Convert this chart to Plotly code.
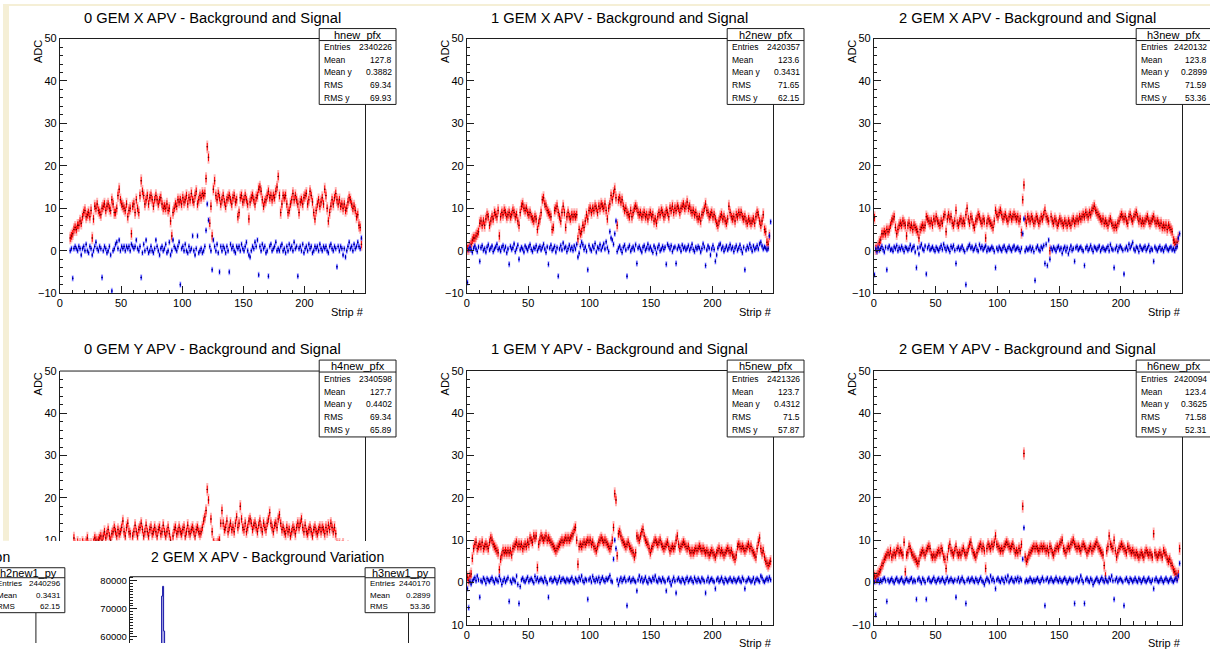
import plotly.graph_objects as go

W, H = 1210, 649
N_STRIPS = 248
STRIPS = list(range(N_STRIPS))
_ = None

# ---------------- data (ADC per strip) ----------------
SIG_X0 = [_,_,_,_,_,_,_,_,3,3.5,
 4,5,5.5,5,6,6,7,6.5,8,9,
 9.5,8,8.5,9,8,9.5,3,7.5,10.5,10,
 11,9.5,9,8.5,10,10.5,11,9.5,10.5,11,
 10,9.5,12,11,9,9,10,13,14.5,12,
 11,10.5,10,9.5,11,8,9.5,10,4,10.5,
 11,9,12,10,9,13,16.5,14,13,11,
 12,13,11,12.5,13,12,10.5,12,13,12,
 11,12,12.5,11,10,10.5,10,11,9.5,10,
 7,3.5,9,10,11,10.5,12,11.5,12,11,
 12.5,11.5,12,13,11,12.5,12,13.5,12,11.5,
 13,14,11,12,13,12.5,13.5,13,13.5,17,
 24.5,22,6.5,10.5,3.5,14.5,16.5,13,12,13.5,
 12.5,11,12,13,11.5,10.5,12,12.5,13,12,
 11,12.5,13,11.5,12,8,9,12.5,13,11.5,
 12,13,12,11,7.5,11.5,12.5,13,12,11,
 12.5,13,14.5,15,14,12,10.5,11.5,12,13,
 14,12.5,13,12,13,12.5,14,15,17.5,13,
 9,11,13,12.5,13,11,9,9.5,11,12,
 13.5,12,13,12,11,9,11.5,12,11,12.5,
 13,13.5,11,12,14,13,11.5,9,7.5,9.5,
 11,12,10.5,11.5,12.5,11,14.5,13,10,7,
 9,10.5,12,11,12.5,13.5,12,11,12,10.5,
 11,10,11,9.5,10,11.5,12.5,12,11,10,
 10.5,9.5,8,8.5,6,5.5,1.5,_]
BKG_X0 = [_,_,_,_,_,_,_,_,0,0.5,
 -6.5,0.5,1,0.5,0,1,0.5,-1,0.5,1,
 0,1.5,0,-0.5,1,0.5,-1,0,1,2,
 0.5,0,1,0.5,-6.3,0,1,0.5,-0.5,0,
 1,-1,-9.5,0,0.5,1.5,2,0.5,2.5,0,
 1,0.5,1,0,1,0.5,1,0,1.5,1,
 0.5,1,2.5,0.5,0,1,-6.3,-0.5,1.5,0,
 2.5,0.5,-0.5,0,1,0,-0.5,0.5,2.5,1,
 0,-1,0.5,1,0,0.5,1.5,-0.5,0,2,
 -1,0,2.5,1,0.5,0,1,2,-8,0.5,
 1,0,1.5,0,-0.5,1,0,0.5,3.5,0,
 -1,0.5,3.5,-0.5,0,0.5,-0.5,0,1,4.8,
 11,7.2,1,0,-4.5,2.5,1,0,1.5,-0.5,
 -5,1,0,1,0.5,-0.5,1,0,-5,1.5,
 0.5,1,0,-0.5,1,0.5,1,0,1.5,0.5,
 0,1,2,0,-1,-1.5,0,1,0.5,2,
 1,2.5,-5.7,1,0,1.5,0.5,1,-0.5,0,
 -6,1,1.5,0,0.5,1,2,0,0.5,0,
 1,1.5,0,0.5,-0.5,1,0,1.5,0.5,1,
 0,2,0.5,1,-6,0.5,1,0,1.5,-0.5,
 0.5,1,0,1.5,0.5,1,-0.5,0,1,0.5,
 1,0,1.5,0.5,0,1,0.5,1,0,-0.5,
 1,1.5,0.5,0,1,0.5,-3.8,1,0,1,
 0.5,-1,0.5,-1.5,0,1,2,0.5,1,0,
 1.5,0.5,1,2,1,0.5,3,_]

SIG_X1 = [0.5,0.5,1,1.5,2.5,3,3,3.5,4,4.5,
 6.5,7,6,7,6,7.5,8.5,8,6,7,
 8,7.5,9,8.5,8,9.5,3.5,8,9,8.5,
 9.5,9,8,8.5,9,8,8.5,9.5,9,8,
 8.5,7,6,9,10.5,11,10,9.5,10,9,
 8.5,9,8,7.5,7,8,7.5,5,6.5,7.5,
 9,12,12.5,11,10.5,9.5,9,8.5,8,5,
 5.5,9.5,10,10.5,9,8,7,9,10.5,9,
 5.5,8,9,8,7.5,8.5,8,8.5,8,8.5,
 2.8,5,4,4.5,6,5.5,7,8.5,7.5,9.5,
 10,9,10,9.5,10.5,10,9,10.5,10,11,
 10.5,10,11,9.5,7.5,10,11,13,12,13.5,
 14.5,12.5,6,12,12.5,11.5,12,10.5,9.5,10,
 9,8.5,8,9.5,8,9,10,10.5,10,9,
 8.5,9,8,8.5,9,8,8.5,7.5,8.5,9,
 8,8.5,7,7.5,6.5,8,9,8.5,9.5,9,
 8,8.5,9.5,9,8,10,9.5,10.5,9,10,
 9.5,10.5,10,9,10,10.5,11,10,10.5,11.5,
 10,10.5,9.5,9,9.5,8.5,9,8,7.5,8,
 7,8.5,9,10,11,9.5,9,8,8.5,9,
 8,8.5,7.5,6.5,6,7,8,8.5,7.5,8,
 7,6.5,7.5,10.5,9,8,7.5,8,7,8.5,
 8,9,8.5,9,8,7.5,8,7,6.5,7.5,
 7,6.5,7,7.5,6.5,8,9,8.5,7,6,
 7,8.5,5,4.5,2,1.5,3.5,_]
BKG_X1 = [-7.5,0.3,0.8,0.2,-0.4,0.6,1.1,0.4,-0.2,0.9,
 -2.5,0.7,1.2,0.1,0.5,-0.3,0.8,1.4,0.2,0.6,
 1.1,-0.2,0.4,0.9,1.5,0.3,0.6,-0.1,0.8,1.2,
 0.2,0.9,-0.5,0.4,-3.2,1.0,0.3,0.7,1.6,-0.2,
 0.5,1.3,-2,0.2,0.8,0.4,-0.3,1.1,0.6,0.1,
 0.9,1.4,0.3,-0.2,0.7,0.5,1.2,0.0,0.6,1.0,
 0.2,0.8,1.5,0.4,-0.4,0.9,-3.2,0.6,1.3,0.1,
 0.5,1.0,-0.3,0.7,-6,0.4,1.2,0.2,1.8,0.6,
 0.9,-0.2,0.5,1.3,0.3,0.8,0.1,1.1,0.4,1.5,
 -1.5,-0.6,1.0,2.0,1.4,0.3,0.9,-0.1,-4.5,1.2,
 0.4,0.0,1.1,0.6,1.7,-0.3,0.8,0.5,1.4,0.2,
 0.9,1.6,0.4,2.1,0.7,-0.2,4.5,3,2.5,1.5,
 4,7,-0.2,0.6,1.1,0.3,-0.4,0.8,1.3,0.2,
 -6,0.7,1.2,-0.1,0.5,0.9,0.2,1.4,-3,0.6,
 1.0,0.3,-0.3,0.8,1.2,0.1,0.6,1.5,0.4,0.9,
 0.2,-0.4,1.1,0.5,-0.6,0.7,1.3,0.0,0.4,1.0,
 0.3,0.8,-3.2,1.5,1.0,0.4,1.2,-0.2,0.6,0.9,
 -3,0.4,1.1,0.7,-0.1,1.3,0.5,0.9,0.2,0.6,
 1.2,0.1,0.7,1.5,0.3,-0.2,0.8,0.4,1.0,0.6,
 -0.3,0.5,1.6,0.8,-3.5,0.2,1.1,0.6,-1,0.4,
 1.2,0.3,-2.5,-1,0.6,1.3,1.6,0.4,0.9,-0.1,
 0.5,1.1,0.2,0.7,1.4,0.4,0.8,-0.2,0.6,1.2,
 0.1,0.6,1.3,0.3,-0.5,0.8,-4.5,0.2,1.0,0.5,
 1.5,0.7,-0.1,1.1,0.3,0.6,1.2,0.4,1.6,2.0,
 1.1,0.4,0.9,0.6,0.2,0.5,3.5,6.8]

SIG_X2 = [7.8,0.5,0.5,1,2,2.5,4,4,4.5,4,
 5,4.5,5,6,7,7.5,8,5.5,4,5,
 6,6.5,6,7,6.5,6,3.5,6,6.5,5.5,
 6,5,6,5.5,5,4.5,3,5,5.5,6,
 5.5,6,8,7.5,7,6.5,7,6,7.5,7,
 8,7,6.5,6,7,6.5,8,8.5,4.5,7.5,
 8.5,7.5,8,6.5,6,7,9.5,6.5,6,7,
 7.5,6.5,7,6.5,8.5,10,7.5,6.5,8,7.5,
 6,5.5,7,7.5,8.5,8,7,6.5,7.5,7,
 3,6.5,7.5,7,6.5,6,5.5,7,9.5,8.5,
 8,9,9.5,8.5,7.5,8,8.5,7.5,7,8,
 8.5,7.5,8,8.5,8,7.5,8,7,7.5,4.3,
 12,15.5,7.5,6.5,8,7.5,7,8,7.5,6.5,
 7,8,7.5,6.5,7,8,7.5,8.5,9.5,8,
 7.5,7,0,8,7,6.5,7.5,7,6,6.5,
 7.5,7,6.5,6,7,6.5,6,7,6.5,6,
 7,7.5,6.5,7,7.5,7,8,7.5,8,8.5,
 8,9,8.5,8,9,8.5,9.5,10,10.5,9.5,
 9,8.5,8,7.5,7,7.5,6.5,7,6.5,6,
 7,7.5,6.5,6,5.5,6,5.5,6.5,7,8,
 8.5,8,7.5,8,7,6.5,8,8.5,7.5,7,
 8,8.5,9,8,7,7.5,6.5,7,6.5,7,
 7.5,8,7,6.5,7,7.5,8,7,6.5,7,
 6.5,6,6.5,5.5,6,5.5,6,5,6,5.5,
 5,4.5,2.5,2,1.5,2,3,_]
BKG_X2 = [-5.7,0.4,-0.2,0.7,0.1,0.5,1.0,0.3,-0.3,0.8,
 -4.5,0.6,1.1,0.2,0.4,-0.1,0.9,0.5,1.2,0.0,
 0.7,0.3,1.0,0.4,-0.2,0.8,0.6,0.1,0.5,1.3,
 0.2,0.7,1.0,-0.3,-4,0.6,-0.8,0.9,1.5,0.4,
 0.1,1.1,-5.5,0.6,1.2,0.2,0.5,0.9,0.3,-0.1,
 0.8,0.4,0.0,0.6,1.2,0.3,1.5,0.7,0.1,0.9,
 0.4,-0.2,1.0,0.6,1.2,0.1,-3,0.5,0.9,0.2,
 0.6,1.1,0.3,-0.2,-8,0.4,1.0,1.4,0.6,0.9,
 0.1,0.5,1.2,0.3,-0.1,1.4,0.6,1.0,0.2,0.7,
 1.1,-0.1,0.6,0.2,0.4,0.9,0.5,-0.2,-4,0.6,
 0.1,0.9,0.4,0.0,0.7,1.1,0.3,-0.1,0.6,1.0,
 0.4,0.0,0.7,1.1,0.2,0.5,0.8,0.3,-0.2,0.6,
 4,7.5,-0.1,0.6,0.2,0.4,0.9,0.1,0.7,-0.2,
 -7,0.6,1.1,0.3,0.0,0.9,0.5,1.2,-3,1.5,
 -3.5,2.5,-2,0.6,0.1,0.8,0.4,-0.1,0.7,1.0,
 0.2,0.6,-0.6,0.4,0.9,0.0,0.7,-0.7,0.3,1.1,
 0.1,0.5,-2.5,0.7,1.0,0.2,0.6,0.9,0.3,-0.1,
 -3.5,0.6,1.0,0.1,0.5,1.2,0.4,-0.2,0.9,0.6,
 0.2,0.7,1.1,-0.1,0.5,0.8,0.3,0.1,0.6,1.0,
 0.0,1.4,0.5,0.2,-4,0.4,1.0,-0.1,0.7,1.1,
 0.6,0.1,-5.5,0.4,0.9,0.2,1.5,0.6,1.2,1.9,
 0.4,0.0,0.9,0.6,-0.2,1.1,0.5,0.2,0.7,1.0,
 0.1,0.6,1.2,-0.1,0.5,0.2,-2.5,0.9,0.4,0.0,
 0.6,1.0,0.2,0.5,-0.1,0.7,1.1,0.4,0.1,0.6,
 0.9,0.2,0.5,0.0,0.6,1.0,3,4]

SIG_Y0 = [_,_,_,_,_,_,_,_,4,6,
 8,10.5,9,8,9.5,8.5,9,8,9.5,9,
 8.5,9.5,10.5,9,8.5,9,3,9.5,10.5,10,
 9.5,10,10.5,11,10,11,12,10.5,11.5,12.5,
 11,10,11.5,12,13,12,11,12.5,11.5,12,
 13,14.5,12,11,13,14,12,11.5,4,11,
 12,13.5,12,11,12.5,13,14,12.5,11,12,
 13.5,12,11,12.5,13,11.5,12,13,12,11,
 12.5,13,11.5,12,13.5,12,11,12,13,11.5,
 10,4,11,12.5,13,11.5,12,13,12,11.5,
 12.5,13,11,12,13.5,12,11.5,12.5,13,12,
 11,12.5,13,12,11.5,12,13,14.5,15.5,17,
 22,19.5,8,15,12,9.5,9,8.5,9,9.5,
 10,14,17,14,12.5,13,14.5,12,13,14,
 12.5,13,12,14,15.5,13,14,18,15,13,
 12.5,14,12,13,14.5,15,14,12.5,13.5,14,
 13,12,13.5,14.5,13,12,14,13,12.5,14,
 15,16.5,14,13,12,13.5,14,13,15,16,
 14,12.5,13,12,11.5,13,12,12.5,11,12,
 13,12.5,11.5,13,14,13,14,15,13,12,
 13.5,12,11.5,12.5,13,12,11,12.5,13,12,
 11.5,12.5,13,12,13,12.5,11.5,13,12,13.5,
 12.5,14,13,12,13,11.5,9,8.5,9,8,
 8.5,9,8,7.5,8,8.5,7,7.5,6.5,7,
 6,5.5,5,4.5,4,3,2,_]
BKG_Y0 = [_,_,_,_,_,_,_,_,0.1,0.6,
 -5,0.4,1.1,0.2,0.6,0.9,-0.1,0.5,1.2,0.4,
 0.1,1.0,0.6,-0.2,0.9,0.4,-0.5,0.2,1.1,0.6,
 0.0,0.9,0.5,0.2,-5.5,0.6,1.0,-0.1,0.5,1.1,
 0.4,0.1,-6,0.6,1.0,0.2,0.5,1.5,0.6,-0.1,
 1.0,0.4,0.1,0.9,0.5,0.2,1.1,0.6,1.0,0.1,
 0.5,1.0,0.0,0.6,1.1,0.4,-5,0.2,0.9,0.5,
 0.1,1.0,0.6,0.0,-4,0.5,1.1,0.2,0.6,0.9,
 0.4,0.1,1.0,0.6,-0.1,0.9,0.5,0.2,1.1,0.4,
 0.0,0.9,0.6,1.5,0.4,0.1,1.0,0.5,-6.5,0.6,
 1.0,0.1,0.5,1.1,0.4,0.0,0.9,0.6,0.1,1.0,
 0.5,0.0,1.1,0.4,1.5,0.6,1.0,0.5,2,5,
 9,6,0.6,0.1,1.0,0.4,-0.1,0.9,0.5,0.2,
 -4.5,0.6,1.0,0.1,0.5,1.1,0.4,0.0,-4,0.6,
 1.0,0.2,0.5,1.1,0.4,0.1,0.9,0.6,0.0,1.0,
 0.5,0.1,1.1,0.6,0.0,0.9,0.4,0.2,0.6,1.0,
 0.1,0.5,-5,0.6,1.0,0.2,0.5,1.1,0.4,0.0,
 -5,0.6,1.0,0.1,0.5,1.1,0.4,0.2,0.9,0.5,
 0.0,0.6,1.0,0.4,0.1,0.9,0.5,0.2,0.6,1.1,
 0.5,0.0,1.0,0.6,-5.5,0.4,1.1,0.1,0.5,0.9,
 0.4,0.1,-3,0.6,1.0,0.2,0.5,1.1,0.4,0.0,
 0.9,0.5,0.1,1.0,0.6,0.0,1.1,0.4,0.2,0.6,
 1.0,0.4,0.1,0.9,0.5,0.2,-3.5,0.6,1.0,0.1,
 0.5,1.1,0.2,0.6,1.0,0.4,0.0,0.9,0.5,0.1,
 1.0,0.5,0.1,1.1,0.6,1.0,2.5,_]

SIG_Y1 = [1.2,0.5,1.5,2,5.7,8,9,9.5,8,8.5,
 9,8.5,9.5,8,8.5,9,8.5,8,9.5,10.5,
 10,9,8.5,8,7.5,7,3,5.5,6.5,7.5,
 7,7.5,7,7.5,7,7.5,6.5,8,8.5,9,
 9.5,8.5,9,8.5,9,8,8.5,9,8.5,9.5,
 9,10.5,10,9.5,11,10.5,11,3.5,9,10,
 11,10.5,10,10.5,11,10,10.5,10,9.5,9,
 8.5,8,7.5,8,8.5,9,9.5,10,9.5,10,
 10.5,10,10.5,10,10.5,11,11.5,12.5,13,10,
 4.3,8.5,9,8.5,9,9.5,9,9.5,10,9.5,
 10,9,9.5,8.5,8,7.5,8.5,9.5,10,10.5,
 10,9.5,10,9.5,9,8.5,8,8.5,10,13,
 21,19.5,6.3,11.5,12,11,10,9.5,9,8.5,
 9,9.5,8.5,8,7.5,7,6,7,11,10.5,
 10,11,12,12.5,11,10,9.5,9,8,7,
 8,8.5,9.5,10,9.5,9,9.5,10,9,8.5,
 8,8.5,9,9.5,8.5,7.5,8,8.5,8,8.5,
 10,11,9,8,8.5,9,9.5,9,8.5,8,
 8.5,7.5,7,7.5,7,7.5,8,7.5,8,8.5,
 8,7.5,8,7.5,7,7.5,7,6.5,7,7.5,
 7,6.5,6,7,7.5,8,7,7.5,7,6.5,
 7,7.5,8,7.5,7,7.5,6.5,6,5.5,6.5,
 8.5,9,8.5,8,8.5,8,7.5,8,8.5,9,
 8,8.5,7.5,7,6.5,6,8,9.5,10.5,8,
 7,7.5,6,5,4.5,4,4.5,5]
BKG_Y1 = [-1.5,-6,0.2,-0.4,0.3,0.7,1.1,0.4,1.5,0.6,
 -3.5,0.4,0.1,1.0,0.6,-0.2,0.9,0.5,0.2,0.7,
 1.1,0.4,-0.1,0.8,0.5,0.2,1.4,0.6,-0.5,0.3,
 0.9,0.1,0.6,1.1,-4.5,0.4,-0.1,0.8,0.5,0.2,
 1.5,-0.5,-5,-1,0.6,1.0,0.4,0.1,0.7,1.2,
 0.2,0.6,0.9,0.4,-0.1,1.4,0.5,1.0,0.2,0.6,
 0.9,0.5,0.1,1.1,0.4,-0.2,-3.5,0.6,0.9,0.2,
 0.4,1.0,0.6,-0.1,0.5,1.2,0.2,0.7,0.9,0.4,
 0.1,0.8,0.5,0.2,0.6,1.1,0.3,-0.1,0.9,0.5,
 0.2,1.1,0.6,1.5,0.4,0.0,0.8,0.5,-4,0.6,
 1.0,0.1,1.4,0.6,0.2,0.9,0.4,1.1,0.0,0.7,
 1.2,0.5,0.2,0.9,0.6,1.0,1.6,0.4,0.1,5.5,
 10,8,0.6,-0.5,0.4,1.0,0.2,0.7,1.1,0.3,
 -5.5,0.6,1.0,0.2,0.5,0.9,0.4,0.1,-2,0.6,
 1.5,0.4,1.0,0.1,0.6,1.2,0.3,-0.1,0.9,0.5,
 0.2,1.1,0.6,1.5,0.4,0.1,0.9,0.6,0.2,1.0,
 0.5,0.1,-2,0.6,1.0,0.2,-0.6,0.4,1.1,0.3,
 -2.5,0.6,1.0,0.4,0.1,0.9,0.5,-0.1,0.7,1.1,
 0.2,0.6,1.0,0.4,0.0,1.1,0.5,0.2,0.9,0.4,
 0.1,1.0,0.6,0.2,-2.5,0.4,1.1,0.1,0.6,0.9,
 0.4,0.1,-1.5,0.6,1.0,0.2,0.5,1.1,0.4,-0.1,
 0.9,0.5,0.1,0.6,1.0,0.4,0.2,0.9,0.5,0.1,
 0.6,1.0,0.4,0.1,1.1,0.6,-1.5,0.2,0.5,1.0,
 0.6,0.1,0.4,1.0,-0.1,0.6,0.9,0.5,0.2,1.5,
 1.1,0.4,0.1,0.6,1.0,0.5,1.2,0.6]

SIG_Y2 = [1.5,1,1.5,2,2.5,3,4,4.5,5.5,6,
 6.5,7,6.5,7.5,6,6.5,7,6.5,7.5,8,
 7,7.5,7,6.5,9.5,2.5,6.5,7,8.5,8,
 7,6.5,6,5.5,5,4.5,5,6.5,7,7.5,
 7,6.5,7.5,8,8.5,8,6.5,6,6.5,6,
 6.5,7,7.5,7,8,7.5,6,5.5,3.3,6,
 8,9,7.5,7,6.5,7.5,8.5,7,6.5,7,
 6.5,7.5,8,7,6.5,7,8,9,9.5,8,
 7,6.5,6,7,8,8.5,9,8,8.5,7.5,
 3.3,8,9,8.5,8,9,8.5,9.5,11,9,
 8.5,8,7.5,8,7.5,8.5,9,9.5,9,8.5,
 8,8.5,9,8,7,7.5,7,8,7.5,9,
 18,30.5,6,5,5.5,6.5,7,7.5,8,8.5,
 8,8.5,8,7.5,8,8.5,8,8.5,8,7.5,
 8,7,8.5,8,7,6.5,7.5,8,8.5,8,
 9,9.5,10,8,7.5,7,8,8.5,8,9,
 9.5,10,9,8.5,8,8.5,8,7.5,8.5,9,
 8.5,8,7,7.5,8,8.5,7.5,8,8.5,9,
 9.5,8.5,8,7.5,7,6.5,4,1.5,7.5,8.5,
 11,9,8.5,8,10,7.5,6,7,8,8.5,
 9,8.5,8,7.5,7,8.5,8,7.5,7,7.5,
 7,6.5,7,6.5,6,6.5,7,6.5,6,7,
 7.5,7,6.5,7,6.5,6,11.5,7,6.5,6,
 6.5,7,6.5,6,7.5,7,6.5,5.5,5,5.5,
 4.5,4,3,2.5,2,1.5,2,8]
BKG_Y2 = [0.1,-7.7,0.3,0.6,0.0,0.5,0.2,0.7,1.0,0.4,
 -4.5,0.6,0.1,0.5,0.9,0.3,-0.1,0.6,1.0,0.4,
 0.1,0.6,1.0,0.3,-0.1,0.5,0.9,0.4,0.2,0.7,
 1.0,0.1,0.5,0.2,-4,0.6,1.0,0.4,-0.1,0.9,
 0.5,0.0,-4,0.6,1.0,0.3,0.1,0.6,1.1,0.4,
 0.0,0.6,0.9,0.2,0.5,1.0,0.4,-0.1,0.6,1.1,
 0.2,0.5,0.9,0.4,0.1,0.6,-3.5,0.4,1.0,0.1,
 0.6,1.1,0.4,0.0,-5,0.5,0.9,0.2,0.6,1.0,
 0.4,0.1,0.9,0.5,0.0,0.6,1.1,0.4,0.1,-0.5,
 0.4,1.0,0.6,0.1,1.5,0.5,0.9,0.2,-1.5,0.6,
 1.0,0.4,0.1,0.9,0.6,0.0,1.1,0.5,1.5,0.1,
 0.6,1.0,0.4,0.1,0.9,0.5,1.1,0.2,0.9,0.5,
 5.5,12.9,0.1,0.6,0.2,0.4,1.0,0.5,0.1,0.6,
 0.2,0.6,1.0,0.4,0.0,0.6,1.1,0.4,-5.5,0.6,
 1.0,0.1,0.5,1.0,0.4,0.1,0.6,1.1,0.5,0.2,
 0.9,0.4,0.1,0.6,1.0,0.5,-0.1,0.4,0.9,0.6,
 0.1,0.5,-5,0.6,1.0,0.1,0.5,1.5,0.6,0.0,
 -5,0.6,1.0,0.4,0.1,0.9,0.5,-0.5,0.1,0.6,
 1.0,0.4,0.0,0.6,1.1,0.5,0.1,0.9,0.4,0.1,
 1.0,0.6,1.5,0.4,-4,0.5,1.0,0.1,0.6,0.9,
 0.5,0.1,-5.5,0.6,1.0,0.4,0.0,0.9,0.6,0.1,
 0.5,1.0,0.4,0.1,0.9,0.6,0.0,0.5,1.0,0.4,
 0.1,0.6,1.0,0.4,0.0,0.6,-1.5,0.5,1.0,0.4,
 0.1,0.5,1.0,0.4,0.0,0.6,1.0,0.5,0.1,0.6,
 1.0,0.4,0.1,0.6,1.0,0.5,1.5,4.5]

TITLES = ["0 GEM X APV - Background and Signal", "1 GEM X APV - Background and Signal",
          "2 GEM X APV - Background and Signal", "0 GEM Y APV - Background and Signal",
          "1 GEM Y APV - Background and Signal", "2 GEM Y APV - Background and Signal"]
STAT_NAMES = ["hnew_pfx", "h2new_pfx", "h3new_pfx", "h4new_pfx", "h5new_pfx", "h6new_pfx"]
STAT_LABELS = ["Entries", "Mean", "Mean y", "RMS", "RMS y"]
STAT_VALUES = [["2340226", "127.8", "0.3882", "69.34", "69.93"],
               ["2420357", "123.6", "0.3431", "71.65", "62.15"],
               ["2420132", "123.8", "0.2899", "71.59", "53.36"],
               ["2340598", "127.7", "0.4402", "69.34", "65.89"],
               ["2421326", "123.7", "0.4312", "71.5", "57.87"],
               ["2420094", "123.4", "0.3625", "71.58", "52.31"]]
SIGNALS = [SIG_X0, SIG_X1, SIG_X2, SIG_Y0, SIG_Y1, SIG_Y2]
BACKGROUNDS = [BKG_X0, BKG_X1, BKG_X2, BKG_Y0, BKG_Y1, BKG_Y2]
SIG_ERR, SIG_BAND = 0.9, 1.5
BKG_ERR, BKG_BAND = 0.5, 0.75

# overlapping window: background-variation histogram
VAR_TITLE_LEFT = "1 GEM X APV - Background Variation"
VAR_TITLE = "2 GEM X APV - Background Variation"
VAR_BINS = [-3.5, -2.5, -1.5, -0.5, 0.5, 1.5, 2.5, 3.5]
VAR_COUNTS = [0, 1500, 21000, 74500, 78000, 62000, 24000, 2500]
VAR_STATS_LEFT = ("h2new1_py", [("Entries", "2440296"), ("Mean", "0.3431"), ("RMS", "62.15")])
VAR_STATS = ("h3new1_py", [("Entries", "2440170"), ("Mean", "0.2899"), ("RMS", "53.36")])

# ---------------- geometry (pixel positions in the target picture) ----------------
FONT = "Liberation Sans, Arial, Helvetica, sans-serif"
INK = "#1e1e1e"
CREAM = "#f5efd6"
COLS = [(57, 363), (465, 772), (873, 1182)]
ROWS = [(38, 293), (371, 625)]
X_RANGE = [0, 249.5]
Y_RANGE = [-10, 50]
WIN_TOP = 541
# vertical calibration of the rendered page (observed offset/scale)
V_OFF, V_SCL = 5.4, 0.983


def fx(p):
    return p / W


def fy(p):
    return 1 - ((p - V_OFF) / V_SCL) / H


BOTTOM_PX = V_OFF + V_SCL * H   # picture row that the figure's bottom edge lands on

fig = go.Figure()
shapes, annots = [], []
layout = dict(width=W, height=H, margin=dict(l=0, r=0, t=0, b=0, pad=0),
              paper_bgcolor="white", plot_bgcolor="white", showlegend=False,
              font=dict(family=FONT, color="black"))

shapes.append(dict(type="rect", xref="paper", yref="paper", x0=0, x1=fx(6), y0=fy(WIN_TOP), y1=1,
                   fillcolor=CREAM, line=dict(width=0), layer="below"))
shapes.append(dict(type="rect", xref="paper", yref="paper", x0=0, x1=1, y0=fy(3.5), y1=1,
                   fillcolor=CREAM, line=dict(width=0), layer="below"))


def hline(xa, xb, y):
    shapes.append(dict(type="line", xref="paper", yref="paper", x0=fx(xa), x1=fx(xb), y0=fy(y), y1=fy(y),
                       line=dict(color=INK, width=1), layer="above"))


def vline(x, ya, yb):
    shapes.append(dict(type="line", xref="paper", yref="paper", x0=fx(x), x1=fx(x), y0=fy(ya), y1=max(0, fy(yb)),
                       line=dict(color=INK, width=1), layer="above"))


def text(t, x, y, size, xanchor="center", yanchor="middle", angle=0):
    annots.append(dict(text=t, x=fx(x), y=fy(y), xref="paper", yref="paper", showarrow=False,
                       xanchor=xanchor, yanchor=yanchor, textangle=angle, borderpad=0,
                       font=dict(family=FONT, size=size, color="black")))


def cover(x, y, w, h):
    annots.append(dict(text=" ", x=fx(x), y=fy(y), xref="paper", yref="paper", showarrow=False,
                       xanchor="left", yanchor="top", width=w, height=h, bgcolor="white",
                       borderpad=0, borderwidth=0))


def stats_box(x0, x1, top, bottom, title, rows, title_h, tsize, rsize):
    shapes.append(dict(type="rect", xref="paper", yref="paper", x0=fx(x0), x1=fx(x1), y0=fy(bottom), y1=fy(top),
                       fillcolor="white", line=dict(color=INK, width=1), layer="above"))
    hline(x0, x1, top + title_h)
    text(title, (x0 + x1) / 2, top + title_h / 2, tsize)
    rh = (bottom - top - title_h) / len(rows)
    for k, (lab, val) in enumerate(rows):
        yc = top + title_h + rh * (k + 0.5)
        text(lab, x0 + 4, yc, rsize, xanchor="left")
        text(val, x1 - 3, yc, rsize, xanchor="right")


XS = [s + 0.5 for s in STRIPS]
tickfont = dict(family=FONT, size=11, color="black")

for i in range(6):
    r, c = divmod(i, 3)
    x0, x1 = COLS[c]
    y0, y1 = ROWS[r]
    cut = (r == 1 and c == 0)
    ybot = WIN_TOP if cut else y1
    ylo = Y_RANGE[0] + (y1 - ybot) / (y1 - y0) * (Y_RANGE[1] - Y_RANGE[0])
    k = str(i + 1)
    layout["xaxis" + k] = dict(domain=[fx(x0), fx(x1)], anchor="y" + k, range=X_RANGE,
                               tickmode="linear", tick0=0, dtick=50,
                               showline=not cut, mirror=True, linecolor=INK, linewidth=1,
                               ticks="" if cut else "inside", ticklen=7, tickwidth=1, tickcolor=INK,
                               showticklabels=not cut, tickfont=tickfont,
                               minor=dict(ticks="" if cut else "inside", ticklen=3.5, tick0=0, dtick=10,
                                          tickcolor=INK, tickwidth=1, showgrid=False),
                               showgrid=False, zeroline=False, fixedrange=True)
    layout["yaxis" + k] = dict(domain=[fy(ybot), fy(y0)], anchor="x" + k, range=[ylo, Y_RANGE[1]],
                               tickmode="linear", tick0=0, dtick=10,
                               showline=True, mirror=True, linecolor=INK, linewidth=1,
                               ticks="inside", ticklen=7, tickwidth=1, tickcolor=INK, tickfont=tickfont,
                               minor=dict(ticks="inside", ticklen=3.5, tick0=0, dtick=2,
                                          tickcolor=INK, tickwidth=1, showgrid=False),
                               showgrid=False, zeroline=False, fixedrange=True)
    sig = (SIGNALS[i] + [None] * N_STRIPS)[:N_STRIPS]
    bkg = (BACKGROUNDS[i] + [None] * N_STRIPS)[:N_STRIPS]
    for vals, band, err, bcol, lcol, mcol in [
            (sig, SIG_BAND, SIG_ERR, "rgba(255,90,90,0.45)", "#ff0000", "#5a0000"),
            (bkg, BKG_BAND, BKG_ERR, "rgba(100,100,255,0.45)", "#0000ff", "#00005a")]:
        fig.add_trace(go.Scatter(x=XS, y=vals, xaxis="x" + k, yaxis="y" + k, mode="markers",
                                 marker=dict(size=1, color="rgba(0,0,0,0)"),
                                 error_y=dict(type="constant", value=band, color=bcol, thickness=2, width=0),
                                 hoverinfo="skip"))
        fig.add_trace(go.Scatter(x=XS, y=vals, xaxis="x" + k, yaxis="y" + k, mode="markers",
                                 marker=dict(size=1.5, color=mcol),
                                 error_y=dict(type="constant", value=err, color=lcol, thickness=1, width=0),
                                 error_x=dict(type="constant", value=0.5, color=lcol, thickness=1, width=0),
                                 hoverinfo="skip"))
    if cut:
        hline(x0, x1, y0)
    text(TITLES[i], (x0 + x1) / 2, y0 - 21 if r == 0 else y0 - 22, 14.7)
    text("ADC", x0 - 22, y0, 11, yanchor="top", angle=-90)
    if not cut:
        text("Strip #", x1, y1 + 18.5, 11, xanchor="right")
    stats_box(x1 - 46, x1 + 31 if c < 2 else x1 + 29, y0 - 10 if r == 0 else y0 - 11,
              y0 + 66, STAT_NAMES[i], list(zip(STAT_LABELS, STAT_VALUES[i])), 12, 11, 8.5)

# ---------------- overlapping window (background variation) ----------------
HX0, HX1, HTOP = 127, 406, 577
PX_80K, PX_PER_10K = 581, 28.0


def count_at(px):
    return 80000 - (px - PX_80K) / PX_PER_10K * 10000


layout["xaxis7"] = dict(domain=[fx(HX0), fx(HX1)], anchor="y7", range=[-33, 246], showline=False,
                        ticks="", showticklabels=False, showgrid=False, zeroline=False, fixedrange=True)
layout["yaxis7"] = dict(domain=[0, fy(HTOP)], anchor="x7", range=[count_at(BOTTOM_PX), count_at(HTOP)],
                        tickmode="linear", tick0=0, dtick=10000, tickformat="d",
                        showline=True, mirror=True, linecolor=INK, linewidth=1,
                        ticks="inside", ticklen=7, tickwidth=1, tickcolor=INK,
                        tickfont=dict(family=FONT, size=9.5, color="black"),
                        minor=dict(ticks="inside", ticklen=3.5, tick0=0, dtick=1000, tickcolor=INK,
                                   tickwidth=1, showgrid=False),
                        showgrid=False, zeroline=False, fixedrange=True)
edges = [b - 0.5 for b in VAR_BINS] + [VAR_BINS[-1] + 0.5]
counts = VAR_COUNTS + [VAR_COUNTS[-1]]
fig.add_trace(go.Scatter(x=edges, y=counts, xaxis="x7", yaxis="y7", mode="lines",
                         line=dict(shape="hv", color="#1818a8", width=1),
                         fill="tozeroy", fillcolor="#a8a8e4", hoverinfo="skip"))
hline(HX0, HX1, HTOP)
vline(33, 613, 660)

cover(22, WIN_TOP, 34, 14)
cover(434, 614, 15, 22)

text(VAR_TITLE_LEFT, 8.5, 557, 14, xanchor="right")
text(VAR_TITLE, 265, 557, 14)
stats_box(-11.5, 62, 568, 613, VAR_STATS_LEFT[0], VAR_STATS_LEFT[1], 10, 11, 8)
stats_box(363, 433, 568, 613, VAR_STATS[0], VAR_STATS[1], 10, 11, 8)

layout["shapes"] = shapes
layout["annotations"] = annots
fig.update_layout(**layout)
fig.write_html("out.html",
               config={"displayModeBar": False, "responsive": False},
               post_script=("document.documentElement.style.margin='0';"
                            "document.documentElement.style.overflow='hidden';"
                            "document.documentElement.style.background="
                            "'linear-gradient(to bottom, " + CREAM + " 0px, " + CREAM + " 8px, #ffffff 8px)';"
                            "document.body.style.margin='0';document.body.style.padding='0';"
                            "document.body.style.overflow='hidden';document.body.style.background='transparent';"
                            "var gd=document.getElementById('{plot_id}');"
                            "gd.style.position='fixed';gd.style.left='0px';gd.style.top='0px';"))
